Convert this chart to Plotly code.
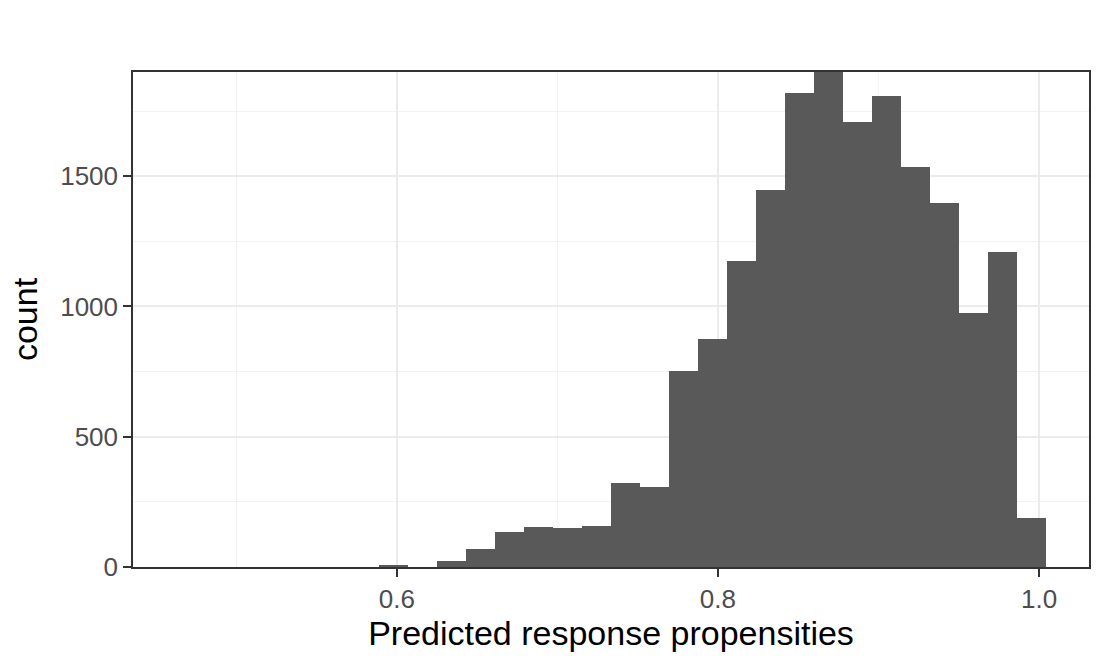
import plotly.graph_objects as go

# Histogram bins (centers) and counts
bin_centers = [0.47154, 0.48961, 0.50768, 0.52575, 0.54382, 0.56189, 0.57996,
               0.59803, 0.61610, 0.63417, 0.65224, 0.67031, 0.68838, 0.70645,
               0.72452, 0.74259, 0.76066, 0.77873, 0.79680, 0.81487, 0.83294,
               0.85101, 0.86908, 0.88715, 0.90522, 0.92329, 0.94136, 0.95943,
               0.97750, 0.99557]
counts = [0, 0, 0, 0, 0, 0, 0,
          7, 0, 24, 68, 135, 152, 148,
          157, 323, 306, 753, 875, 1174, 1447,
          1818, 1900, 1709, 1807, 1534, 1399, 976,
          1208, 187]
bin_width = 0.01807

x_tickvals = [0.6, 0.8, 1.0]
x_ticktext = ["0.6", "0.8", "1.0"]
y_tickvals = [0, 500, 1000, 1500]
y_ticktext = ["0", "500", "1000", "1500"]

FONT = "Liberation Sans, Arial, sans-serif"

fig = go.Figure()
fig.add_trace(go.Bar(
    x=bin_centers, y=counts, width=[bin_width] * len(counts),
    marker=dict(color="#595959", line=dict(width=0)),
    hoverinfo="x+y",
))

fig.update_layout(
    width=1108, height=665,
    margin=dict(l=133, r=19, t=72, b=98, autoexpand=False),
    paper_bgcolor="white", plot_bgcolor="white",
    showlegend=False, bargap=0,
    font=dict(family=FONT),
)

fig.update_xaxes(
    range=[0.43567, 1.0311], automargin=False,
    tickmode="array", tickvals=x_tickvals, ticktext=x_ticktext,
    ticks="outside", ticklen=8, tickwidth=1.5, tickcolor="#333333",
    tickfont=dict(size=26, color="#4D4D4D", family=FONT),
    showgrid=True, gridcolor="#EBEBEB", gridwidth=2,
    minor=dict(tickvals=[0.5, 0.7, 0.9], showgrid=True, gridcolor="#F2F2F2", gridwidth=1, ticks=""),
    showline=True, linecolor="#333333", linewidth=1.5, mirror=True,
    zeroline=False,
    title=dict(text="Predicted response propensities", font=dict(size=34, color="black", family=FONT), standoff=6),
)
fig.update_yaxes(
    range=[0, 1900], automargin=False,
    tickmode="array", tickvals=y_tickvals, ticktext=y_ticktext,
    ticks="outside", ticklen=8, tickwidth=1.5, tickcolor="#333333",
    tickfont=dict(size=26, color="#4D4D4D", family=FONT),
    showgrid=True, gridcolor="#EBEBEB", gridwidth=2,
    minor=dict(tickvals=[250, 750, 1250, 1750], showgrid=True, gridcolor="#F2F2F2", gridwidth=1, ticks=""),
    showline=True, linecolor="#333333", linewidth=1.5, mirror=True,
    zeroline=False,
    title=dict(text="count", font=dict(size=34, color="black", family=FONT), standoff=12),
)

fig.write_html(
    "out.html",
    config={"displayModeBar": False},
    post_script="document.body.style.margin='0';document.body.style.overflow='hidden';",
)
